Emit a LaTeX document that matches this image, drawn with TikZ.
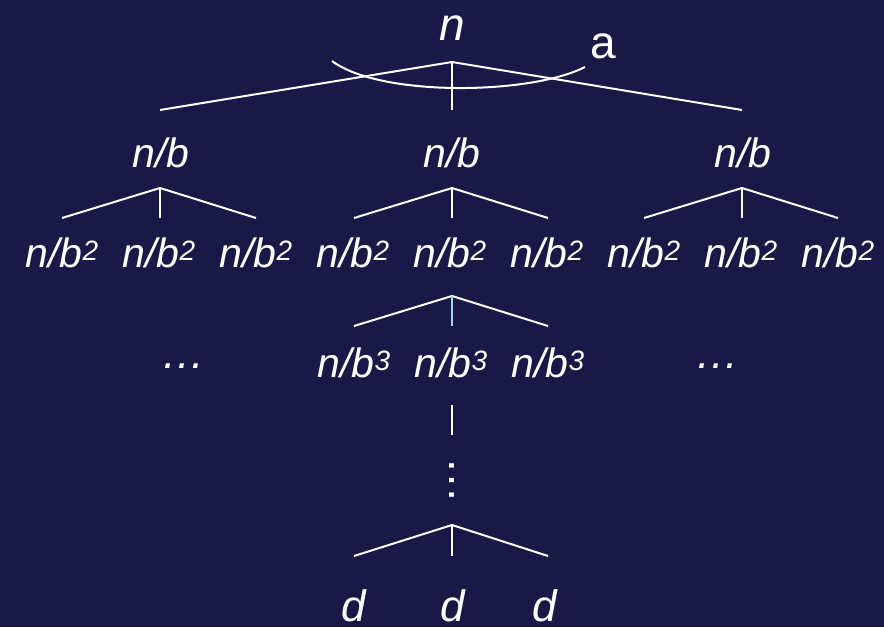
\documentclass[tikz,border=0pt]{standalone}
\usepackage{fontspec}
\setmainfont{Liberation Sans}
\definecolor{bg}{RGB}{24,25,70}
\definecolor{stemcol}{RGB}{168,216,224}
\newcommand{\sq}[1]{{\fontsize{28}{28}\selectfont\raisebox{7pt}{#1}}}
\begin{document}
\begin{tikzpicture}[x=1pt,y=-1pt,
  lbl/.style={text=white,font=\fontsize{41}{44}\selectfont\itshape,inner sep=0pt,anchor=base},
  rootlbl/.style={lbl,font=\fontsize{46}{48}\selectfont\itshape},
  alabel/.style={lbl,font=\fontsize{46}{48}\selectfont},
  dlbl/.style={lbl,font=\fontsize{44}{48}\selectfont\itshape},
  edge/.style={draw=white,line width=2pt},
  litestem/.style={draw=stemcol,line width=2pt}]
\fill[bg] (0,0) rectangle (884,627);
\useasboundingbox (0,0) rectangle (884,627);

% labels
\node[rootlbl] (root) at (452,40) {n};
\node[alabel] (alab) at (603,58) {a};
\node[lbl] (L1a) at (161,167) {n/b};
\node[lbl] (L1b) at (452,167) {n/b};
\node[lbl] (L1c) at (743,167) {n/b};
\foreach \x [count=\i] in {62,159,256,353,450,547,644,741,838}
  \node[lbl] (L2-\i) at (\x,267) {n/b\sq{2}};
\node[lbl] (L3a) at (354,377) {n/b\sq{3}};
\node[lbl] (L3b) at (451,377) {n/b\sq{3}};
\node[lbl] (L3c) at (548,377) {n/b\sq{3}};
\node[lbl,font=\fontsize{44}{48}\selectfont\itshape] (dotsL) at (183,368) {…};
\node[lbl,font=\fontsize{44}{48}\selectfont\itshape] (dotsR) at (717,368) {…};
\node[text=white,font=\fontsize{46}{48}\selectfont,inner sep=0pt,rotate=-90] (vdots) at (452,480) {…};
\node[dlbl] (d1) at (354,621) {d};
\node[dlbl] (d2) at (453,621) {d};
\node[dlbl] (d3) at (545,621) {d};

% connector points
\coordinate (t0) at (452,62);
\coordinate (t0l) at (160,110);
\coordinate (t0r) at (742,110);
\coordinate (t0s) at (452,110);
\foreach \x/\n in {160/a,452/b,742/c}{
  \coordinate (t1\n) at (\x,188);
  \coordinate (t1\n l) at (\x-98,218);
  \coordinate (t1\n r) at (\x+96,218);
  \coordinate (t1\n s) at (\x,218);
}
\coordinate (t2) at (452,296);
\coordinate (t2l) at (354,326);
\coordinate (t2r) at (548,326);
\coordinate (t2s) at (452,326);
\coordinate (s3a) at (452,405);
\coordinate (s3b) at (452,435);
\coordinate (t4) at (452,525);
\coordinate (t4l) at (354,556);
\coordinate (t4r) at (548,556);
\coordinate (t4s) at (452,556);
\coordinate (arcL) at (332,61);
\coordinate (arcR) at (585,67);
\coordinate (arcC1) at (380,97);
\coordinate (arcC2) at (530,95);

% connectors
\draw[edge] (t0l) -- (t0) -- (t0r);
\draw[edge] (t0) -- (t0s);
\draw[edge] (arcL) .. controls (arcC1) and (arcC2) .. (arcR);
\foreach \n in {a,b,c}{
  \draw[edge] (t1\n l) -- (t1\n) -- (t1\n r);
  \draw[edge] (t1\n) -- (t1\n s);
}
\draw[edge] (t2l) -- (t2) -- (t2r);
\draw[litestem] (t2) -- (t2s);
\draw[edge] (s3a) -- (s3b);
\draw[edge] (t4l) -- (t4) -- (t4r);
\draw[edge] (t4) -- (t4s);
\end{tikzpicture}
\end{document}
